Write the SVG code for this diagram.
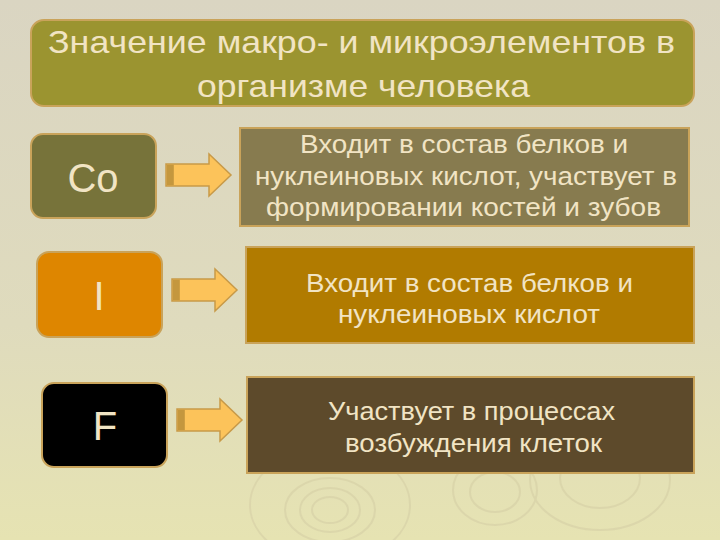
<svg xmlns="http://www.w3.org/2000/svg" width="720" height="540" viewBox="0 0 720 540">
<defs>
<linearGradient id="bg" x1="0" y1="0" x2="0" y2="1">
<stop offset="0" stop-color="#dad5c2"/>
<stop offset="0.6" stop-color="#dfdbbd"/>
<stop offset="1" stop-color="#e6e3b2"/>
</linearGradient>
<g id="arrow">
<polygon points="0,-11 43,-11 43,-21 65,0 43,21 43,11 0,11" fill="#fcc35a" stroke="#c89a48" stroke-width="1.5"/>
<rect x="0.8" y="-10.2" width="7" height="20.4" fill="#c4973e"/>
</g>
</defs>
<style>
.t{font-family:"Liberation Sans",Arial,sans-serif;fill:#f1e4c4;text-anchor:middle}
.title{font-size:32px}
.el{font-size:40px}
.desc{font-size:25px}
.bd{stroke:#c9a35a;stroke-width:2}
</style>
<rect width="720" height="540" fill="url(#bg)"/>
<g fill="none" stroke="#d8d2a8" stroke-width="2" opacity="0.7">
<ellipse cx="330" cy="510" rx="45" ry="32"/>
<ellipse cx="330" cy="510" rx="30" ry="22"/>
<ellipse cx="330" cy="510" rx="18" ry="13"/>
<ellipse cx="330" cy="505" rx="80" ry="58"/>
<ellipse cx="495" cy="490" rx="42" ry="35"/>
<ellipse cx="495" cy="492" rx="25" ry="20"/>
<ellipse cx="600" cy="480" rx="70" ry="50"/>
<ellipse cx="600" cy="478" rx="40" ry="30"/>
</g>
<g id="title">
<rect class="bd" x="31" y="20" width="663" height="86" rx="13" fill="#9b9430"/>
<text class="t title" x="361.5" y="53" textLength="627" lengthAdjust="spacingAndGlyphs">Значение макро- и микроэлементов в</text>
<text class="t title" x="363.5" y="97" textLength="333" lengthAdjust="spacingAndGlyphs">организме человека</text>
</g>
<g id="co">
<rect class="bd" x="31" y="134" width="125" height="84" rx="12" fill="#77733a"/>
<text class="t el" x="93" y="191.5">Co</text>
</g>
<g id="i">
<rect class="bd" x="37" y="252" width="125" height="85" rx="12" fill="#de8600"/>
<text class="t el" x="99" y="310">I</text>
</g>
<g id="f">
<rect class="bd" x="42" y="383" width="125" height="84" rx="12" fill="#000000"/>
<text class="t el" x="105" y="440">F</text>
</g>
<g id="desc-co">
<rect class="bd" x="240" y="128" width="449" height="98" fill="#877b4f"/>
<text class="t desc" x="464" y="153" textLength="328" lengthAdjust="spacingAndGlyphs">Входит в состав белков и</text>
<text class="t desc" x="466" y="184.5" textLength="422" lengthAdjust="spacingAndGlyphs">нуклеиновых кислот, участвует в</text>
<text class="t desc" x="463.5" y="216" textLength="395" lengthAdjust="spacingAndGlyphs">формировании костей и зубов</text>
</g>
<g id="desc-i">
<rect class="bd" x="246" y="247" width="448" height="96" fill="#b17b00"/>
<text class="t desc" x="469.5" y="292" textLength="327" lengthAdjust="spacingAndGlyphs">Входит в состав белков и</text>
<text class="t desc" x="469" y="323" textLength="262" lengthAdjust="spacingAndGlyphs">нуклеиновых кислот</text>
</g>
<g id="desc-f">
<rect class="bd" x="247" y="377" width="447" height="96" fill="#5d4a2b"/>
<text class="t desc" x="471.5" y="420" textLength="287" lengthAdjust="spacingAndGlyphs">Участвует в процессах</text>
<text class="t desc" x="473.5" y="451.5" textLength="257" lengthAdjust="spacingAndGlyphs">возбуждения клеток</text>
</g>
<g id="connectors">
<use href="#arrow" x="166" y="175"/>
<use href="#arrow" x="172" y="290"/>
<use href="#arrow" x="177" y="420"/>
</g>
</svg>
